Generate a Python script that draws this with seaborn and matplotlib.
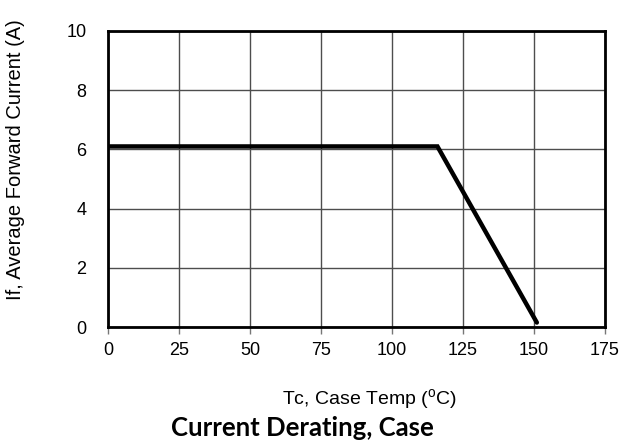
import matplotlib
matplotlib.use("Agg")
import matplotlib.pyplot as plt
import seaborn as sns
import pandas as pd

# derating curve
case_temp = [0, 116, 151]
forward_current = [6.1, 6.1, 0.15]
x_ticks = [0, 25, 50, 75, 100, 125, 150, 175]
y_ticks = [0, 2, 4, 6, 8, 10]

df = pd.DataFrame({"Tc": case_temp, "If": forward_current})

sns.set_style("white", {"text.color": "black", "axes.labelcolor": "black",
                        "xtick.color": "black", "ytick.color": "black"})
plt.rcParams["font.family"] = ["Liberation Sans", "DejaVu Sans"]
plt.rcParams["mathtext.fontset"] = "custom"
plt.rcParams["mathtext.rm"] = "Liberation Sans"

left, right, top, bottom = 108, 605, 31, 327
fig = plt.figure(figsize=(6.22, 4.48), dpi=100)
ax = fig.add_axes([left / 622, 1 - bottom / 448, (right - left) / 622, (bottom - top) / 448])

sns.lineplot(data=df, x="Tc", y="If", color="black", linewidth=3.2, ax=ax,
             solid_joinstyle="miter", zorder=3)

ax.set_xlim(0, 175)
ax.set_ylim(0, 10)
ax.set_xticks(x_ticks)
ax.set_yticks(y_ticks)
ax.grid(True, color="#4d4d4d", linewidth=1.0)
for s in ax.spines.values():
    s.set_color("black")
    s.set_linewidth(2)
ax.tick_params(axis="x", bottom=True, length=5, width=1, color="#777777",
               labelcolor="black", labelsize=13, pad=6)
ax.tick_params(axis="y", left=False, labelcolor="black", labelsize=13, pad=12)
ax.set_xlabel("")
ax.set_ylabel("If, Average Forward Current (A)", fontsize=14.5, color="black")
ax.yaxis.set_label_coords((25 - left) / (right - left), (bottom - 160) / (bottom - top))

fig.text(369 / 622, 1 - 400 / 448, r"Tc, Case Temp ($^{\rm o}$C)", fontsize=14,
         color="black", ha="center", va="center")
fig.text(302 / 622, 1 - 428 / 448, "Current Derating, Case", fontsize=18.5,
         fontweight="bold", family=["Lato", "DejaVu Sans"], color="black",
         ha="center", va="center")

fig.savefig("out.png", dpi=100)
